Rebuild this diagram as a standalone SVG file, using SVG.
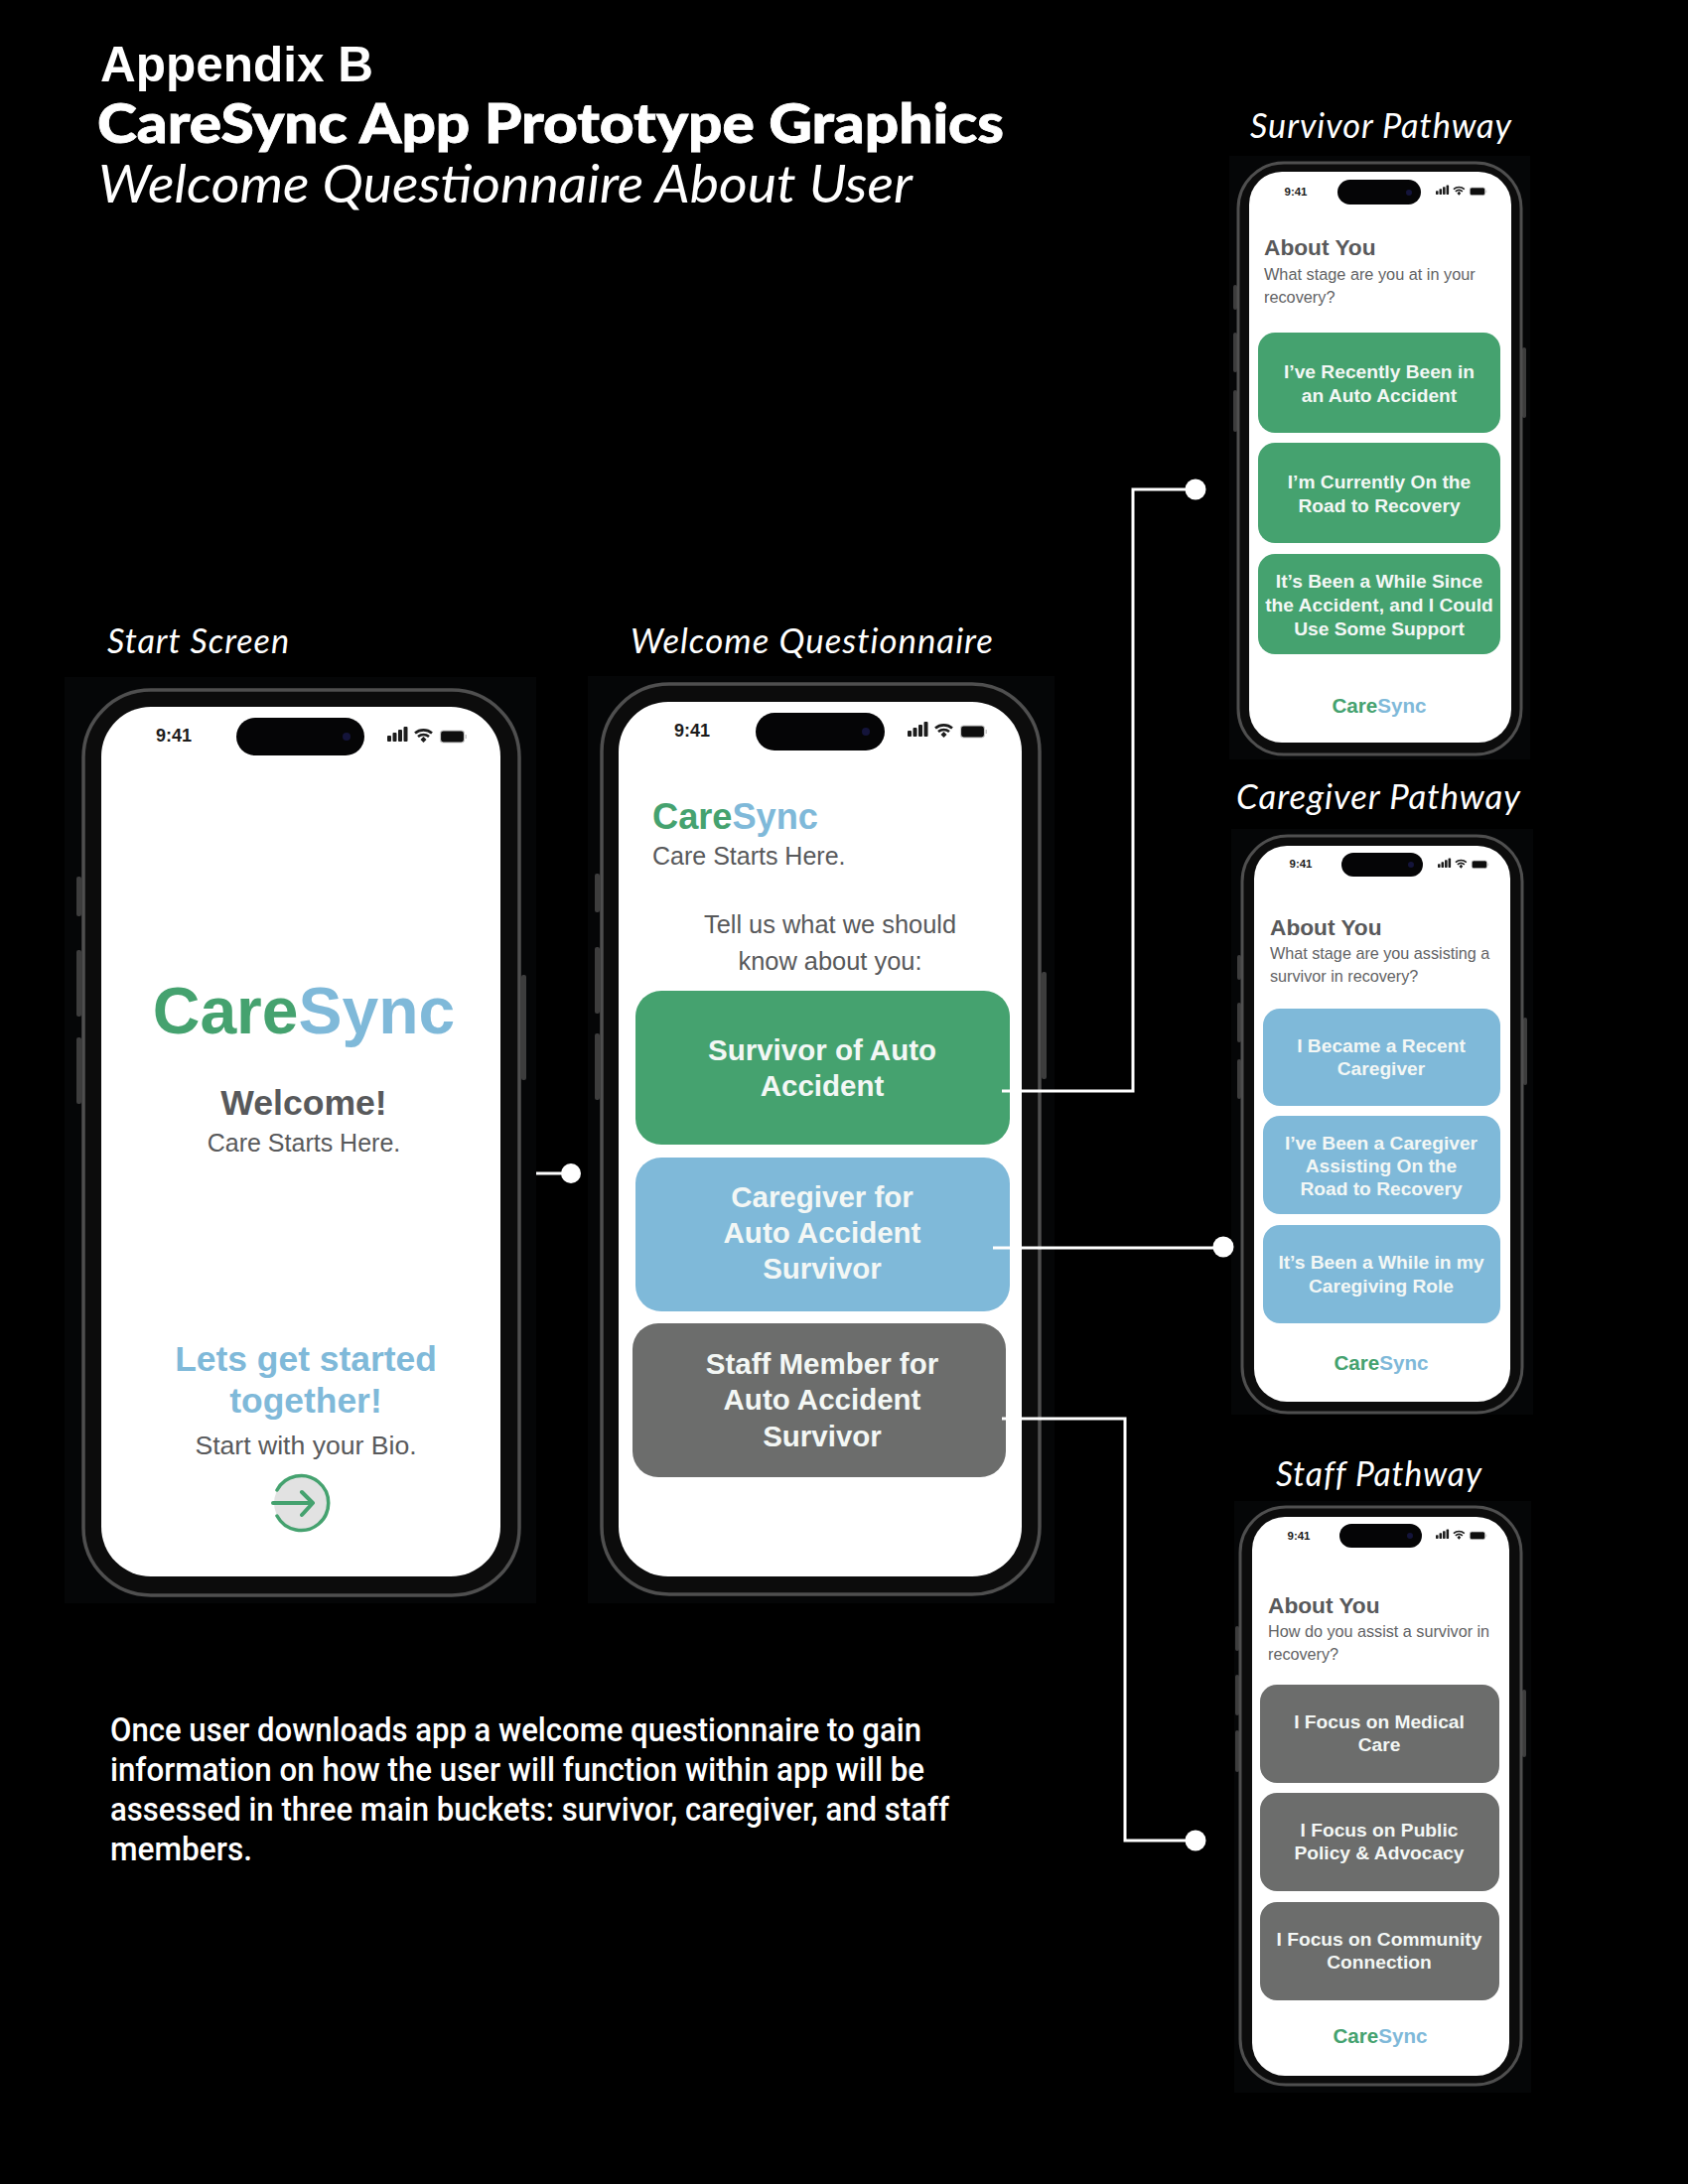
<svg xmlns="http://www.w3.org/2000/svg" xmlns:xlink="http://www.w3.org/1999/xlink" width="1700" height="2200" viewBox="0 0 1700 2200">
<style>
text{font-family:"Liberation Sans",Arial,sans-serif}
.fut{font-family:Lato,"Liberation Sans",sans-serif;fill:#fff}
.lab{font-family:Lato,"Liberation Sans",sans-serif;font-style:italic;font-size:35px;fill:#fff;letter-spacing:1px}
.body{font-family:"Roboto","Liberation Sans",sans-serif;font-size:33px;font-weight:500;fill:#fff}
.back{fill:#050607}
.frame{fill:#0c0c0c;stroke:#4f4f4f;stroke-width:3.5}
.screen{fill:#fff}
.btnside{fill:#3d3d3d}
.island{fill:#050506}
.time{font-weight:700;fill:#1c1c1c;text-anchor:middle}
.ink{fill:#58595b}
.h{font-weight:700;fill:#58595b}
.sub{fill:#626365}
.g{fill:#45a26f}.b{fill:#7fb9d9}.k{fill:#6c6d6c}
.gt{fill:#45a26f}.bt{fill:#7fb9d9}
.bm{font-weight:700;fill:#f3f7f5;text-anchor:middle;font-size:29.5px}
.bs{font-weight:700;fill:#f3f7f5;text-anchor:middle;font-size:19.2px}
.brand{font-weight:700;text-anchor:middle;font-size:20.6px}
.conn{fill:none;stroke:#fff;stroke-width:3}
.dot{fill:#fff}
</style>
<defs>
<g id="status">
<rect x="0" y="-6" width="4" height="6" rx="1" fill="#1c1c1c"/>
<rect x="5.5" y="-9" width="4" height="9" rx="1" fill="#1c1c1c"/>
<rect x="11" y="-12" width="4" height="12" rx="1" fill="#1c1c1c"/>
<rect x="16.5" y="-15" width="4" height="15" rx="1" fill="#1c1c1c"/>
<path d="M28 -8.5A13 13 0 0 1 45 -8.5M31 -5A8.5 8.5 0 0 1 42 -5" fill="none" stroke="#1c1c1c" stroke-width="2.6"/>
<path d="M33.5 -2L36.5 -5L39.5 -2L36.5 1Z" fill="#1c1c1c"/>
<rect x="53.5" y="-11" width="24" height="12" rx="3" fill="#0e0e0e" stroke="#c9c9c9" stroke-width="1.2"/>
<rect x="78.5" y="-7" width="1.5" height="4" fill="#c9c9c9"/>
</g>
</defs>
<rect width="1700" height="2200" fill="#000"/>

<g id="title">
<text x="101" y="82" font-size="50" font-weight="700" fill="#fff" textLength="275" lengthAdjust="spacingAndGlyphs">Appendix B</text>
<text class="fut" x="98" y="144" font-size="55" font-weight="900" stroke="#fff" stroke-width=".8" textLength="913" lengthAdjust="spacingAndGlyphs">CareSync App Prototype Graphics</text>
<text class="fut" x="99" y="204" font-size="52" font-style="italic" textLength="820" lengthAdjust="spacingAndGlyphs">Welcome Questionnaire About User</text>
</g>

<g id="labels">
<text class="lab" x="108" y="658" textLength="184" lengthAdjust="spacingAndGlyphs">Start Screen</text>
<text class="lab" x="635" y="658" textLength="366" lengthAdjust="spacingAndGlyphs">Welcome Questionnaire</text>
<text class="lab" x="1259" y="139" textLength="264" lengthAdjust="spacingAndGlyphs">Survivor Pathway</text>
<text class="lab" x="1245" y="815" textLength="287" lengthAdjust="spacingAndGlyphs">Caregiver Pathway</text>
<text class="lab" x="1285" y="1497" textLength="208" lengthAdjust="spacingAndGlyphs">Staff Pathway</text>
</g>

<g id="phone-start">
<rect class="back" x="65" y="682" width="475" height="933"/>
<rect class="btnside" x="77" y="883" width="5" height="40" rx="2"/><rect class="btnside" x="77" y="957" width="5" height="67" rx="2"/><rect class="btnside" x="77" y="1045" width="5" height="67" rx="2"/><rect class="btnside" x="525" y="982" width="5" height="106" rx="2"/>
<rect class="frame" x="84" y="695" width="439" height="912" rx="68"/>
<rect class="screen" x="102" y="712" width="402" height="876" rx="50"/>
<rect class="island" x="238" y="723" width="129" height="38" rx="19"/>
<circle cx="349" cy="742" r="4" fill="#14143a"/>
<text class="time" x="175" y="747" font-size="18">9:41</text>
<use xlink:href="#status" href="#status" x="390" y="747"/>
<text x="306" y="1041" font-size="66" font-weight="700" text-anchor="middle"><tspan class="gt">Care</tspan><tspan class="bt">Sync</tspan></text>
<text class="h" x="306" y="1123" font-size="35.6" text-anchor="middle">Welcome!</text>
<text class="ink" x="306" y="1160" font-size="25" text-anchor="middle">Care Starts Here.</text>
<text class="bt" x="308" y="1381" font-size="35.4" font-weight="700" text-anchor="middle">Lets get started</text>
<text class="bt" x="308" y="1423" font-size="35.4" font-weight="700" text-anchor="middle">together!</text>
<text class="ink" x="308" y="1465" font-size="26.6" text-anchor="middle">Start with your Bio.</text>
<g id="start-arrow" fill="none" stroke="#45a26f" stroke-linecap="round" stroke-linejoin="round">
<circle cx="303" cy="1514" r="27" fill="#e2e2e2" stroke="none"/>
<path d="M279 1501A27.5 27.5 0 1 1 279 1527" stroke-width="3.5"/>
<path d="M275 1514H314M304 1503L315 1514L304 1526" stroke-width="4"/>
</g>
</g>

<g id="phone-welcome">
<rect class="back" x="592" y="681" width="470" height="934"/>
<rect class="btnside" x="599" y="880" width="5" height="39" rx="2"/><rect class="btnside" x="599" y="954" width="5" height="67" rx="2"/><rect class="btnside" x="599" y="1041" width="5" height="67" rx="2"/><rect class="btnside" x="1049" y="979" width="5" height="108" rx="2"/>
<rect class="frame" x="606" y="689" width="441" height="917" rx="68"/>
<rect class="screen" x="623" y="707" width="406" height="881" rx="50"/>
<rect class="island" x="761" y="718" width="130" height="38" rx="19"/>
<circle cx="872" cy="737" r="4" fill="#14143a"/>
<text class="time" x="697" y="742" font-size="18">9:41</text>
<use xlink:href="#status" href="#status" x="914" y="742"/>
<text x="657" y="835" font-size="36.2" font-weight="700"><tspan class="gt">Care</tspan><tspan class="bt">Sync</tspan></text>
<text class="ink" x="657" y="871" font-size="25">Care Starts Here.</text>
<text class="ink" x="836" y="940" font-size="25.4" text-anchor="middle">Tell us what we should</text>
<text class="ink" x="836" y="977" font-size="25.4" text-anchor="middle">know about you:</text>
<rect class="g" x="640" y="998" width="377" height="155" rx="26"/>
<text class="bm" x="828" y="1068">Survivor of Auto</text><text class="bm" x="828" y="1104">Accident</text>
<rect class="b" x="640" y="1166" width="377" height="155" rx="26"/>
<text class="bm" x="828" y="1216">Caregiver for</text><text class="bm" x="828" y="1252">Auto Accident</text><text class="bm" x="828" y="1288">Survivor</text>
<rect class="k" x="637" y="1333" width="376" height="155" rx="26"/>
<text class="bm" x="828" y="1384">Staff Member for</text><text class="bm" x="828" y="1420">Auto Accident</text><text class="bm" x="828" y="1457">Survivor</text>
</g>

<g id="phone-survivor">
<rect class="back" x="1238" y="157" width="303" height="608"/>
<rect class="btnside" x="1242" y="287" width="4" height="25" rx="2"/><rect class="btnside" x="1242" y="335" width="4" height="40" rx="2"/><rect class="btnside" x="1242" y="393" width="4" height="42" rx="2"/><rect class="btnside" x="1533" y="350" width="4" height="71" rx="2"/>
<rect class="frame" x="1247" y="164" width="285" height="596" rx="46" style="stroke-width:3"/>
<rect class="screen" x="1258" y="173" width="264" height="575" rx="33"/>
<rect class="island" x="1347" y="181" width="84" height="25" rx="12.5"/>
<circle cx="1419" cy="194" r="3" fill="#14143a"/>
<text class="time" x="1305" y="197" font-size="11.5">9:41</text>
<use xlink:href="#status" href="#status" transform="translate(1446 196) scale(.64)"/>
<text class="h" x="1273" y="257" font-size="22.7">About You</text>
<text class="sub" x="1273" y="282" font-size="16.3">What stage are you at in your</text>
<text class="sub" x="1273" y="305" font-size="16.3">recovery?</text>
<rect class="g" x="1267" y="335" width="244" height="101" rx="17"/>
<text class="bs" x="1389" y="381">I’ve Recently Been in</text><text class="bs" x="1389" y="405">an Auto Accident</text>
<rect class="g" x="1267" y="446" width="244" height="101" rx="17"/>
<text class="bs" x="1389" y="492">I’m Currently On the</text><text class="bs" x="1389" y="516">Road to Recovery</text>
<rect class="g" x="1267" y="558" width="244" height="101" rx="17"/>
<text class="bs" x="1389" y="592">It’s Been a While Since</text><text class="bs" x="1389" y="616">the Accident, and I Could</text><text class="bs" x="1389" y="640">Use Some Support</text>
<text class="brand" x="1389" y="718"><tspan class="gt">Care</tspan><tspan class="bt">Sync</tspan></text>
</g>

<g id="phone-caregiver">
<rect class="back" x="1240" y="835" width="304" height="590"/>
<rect class="btnside" x="1246" y="962" width="4" height="25" rx="2"/><rect class="btnside" x="1246" y="1010" width="4" height="40" rx="2"/><rect class="btnside" x="1246" y="1067" width="4" height="40" rx="2"/><rect class="btnside" x="1534" y="1025" width="4" height="68" rx="2"/>
<rect class="frame" x="1251" y="842" width="282" height="581" rx="46" style="stroke-width:3"/>
<rect class="screen" x="1263" y="852" width="258" height="560" rx="33"/>
<rect class="island" x="1351" y="859" width="82" height="24" rx="12"/>
<circle cx="1421" cy="871" r="3" fill="#14143a"/>
<text class="time" x="1310" y="874" font-size="11.5">9:41</text>
<use xlink:href="#status" href="#status" transform="translate(1448 874) scale(.64)"/>
<text class="h" x="1279" y="942" font-size="22.7">About You</text>
<text class="sub" x="1279" y="966" font-size="16.2">What stage are you assisting a</text>
<text class="sub" x="1279" y="989" font-size="16.2">survivor in recovery?</text>
<rect class="b" x="1272" y="1016" width="239" height="98" rx="17"/>
<text class="bs" x="1391" y="1060">I Became a Recent</text><text class="bs" x="1391" y="1083">Caregiver</text>
<rect class="b" x="1272" y="1124" width="239" height="99" rx="17"/>
<text class="bs" x="1391" y="1158">I’ve Been a Caregiver</text><text class="bs" x="1391" y="1181">Assisting On the</text><text class="bs" x="1391" y="1204">Road to Recovery</text>
<rect class="b" x="1272" y="1234" width="239" height="99" rx="17"/>
<text class="bs" x="1391" y="1278">It’s Been a While in my</text><text class="bs" x="1391" y="1302">Caregiving Role</text>
<text class="brand" x="1391" y="1380"><tspan class="gt">Care</tspan><tspan class="bt">Sync</tspan></text>
</g>

<g id="phone-staff">
<rect class="back" x="1243" y="1512" width="299" height="596"/>
<rect class="btnside" x="1244" y="1638" width="4" height="25" rx="2"/><rect class="btnside" x="1244" y="1687" width="4" height="41" rx="2"/><rect class="btnside" x="1244" y="1743" width="4" height="42" rx="2"/><rect class="btnside" x="1533" y="1702" width="4" height="68" rx="2"/>
<rect class="frame" x="1249" y="1518" width="283" height="582" rx="46" style="stroke-width:3"/>
<rect class="screen" x="1261" y="1528" width="259" height="563" rx="33"/>
<rect class="island" x="1349" y="1535" width="83" height="24" rx="12"/>
<circle cx="1420" cy="1547" r="3" fill="#14143a"/>
<text class="time" x="1308" y="1551" font-size="11.5">9:41</text>
<use xlink:href="#status" href="#status" transform="translate(1446 1550) scale(.64)"/>
<text class="h" x="1277" y="1625" font-size="22.7">About You</text>
<text class="sub" x="1277" y="1649" font-size="16.2">How do you assist a survivor in</text>
<text class="sub" x="1277" y="1672" font-size="16.2">recovery?</text>
<rect class="k" x="1269" y="1697" width="241" height="99" rx="17"/>
<text class="bs" x="1389" y="1741">I Focus on Medical</text><text class="bs" x="1389" y="1764">Care</text>
<rect class="k" x="1269" y="1806" width="241" height="99" rx="17"/>
<text class="bs" x="1389" y="1850">I Focus on Public</text><text class="bs" x="1389" y="1873">Policy &amp; Advocacy</text>
<rect class="k" x="1269" y="1916" width="241" height="99" rx="17"/>
<text class="bs" x="1389" y="1960">I Focus on Community</text><text class="bs" x="1389" y="1983">Connection</text>
<text class="brand" x="1390" y="2058"><tspan class="gt">Care</tspan><tspan class="bt">Sync</tspan></text>
</g>

<g id="connectors">
<path class="conn" d="M540 1182H575"/><circle class="dot" cx="575" cy="1182" r="10"/>
<path class="conn" d="M1009 1099H1141V493H1204"/><circle class="dot" cx="1204" cy="493" r="10.5"/>
<path class="conn" d="M1000 1257H1232"/><circle class="dot" cx="1232" cy="1256" r="10.5"/>
<path class="conn" d="M1009 1429H1133V1854H1204"/><circle class="dot" cx="1204" cy="1854" r="10.5"/>
</g>

<g id="description">
<text class="body" x="111" y="1754" textLength="817" lengthAdjust="spacingAndGlyphs">Once user downloads app a welcome questionnaire to gain</text>
<text class="body" x="111" y="1794" textLength="820" lengthAdjust="spacingAndGlyphs">information on how the user will function within app will be</text>
<text class="body" x="111" y="1834" textLength="845" lengthAdjust="spacingAndGlyphs">assessed in three main buckets: survivor, caregiver, and staff</text>
<text class="body" x="111" y="1874" textLength="143" lengthAdjust="spacingAndGlyphs">members.</text>
</g>
</svg>
